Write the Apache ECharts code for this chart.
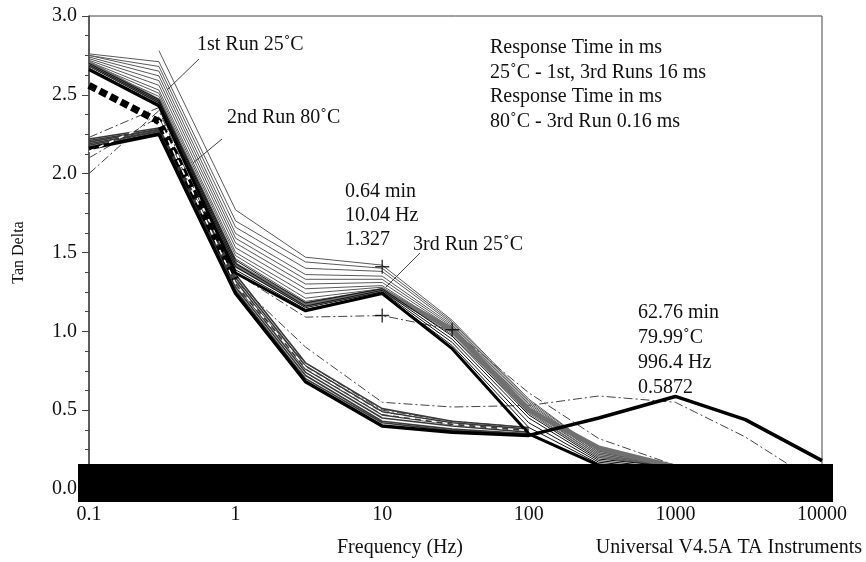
<!DOCTYPE html>
<html>
<head>
<meta charset="utf-8">
<script src="https://cdn.jsdelivr.net/npm/echarts@6/dist/echarts.min.js"></script>
<style>
  html, body { margin: 0; padding: 0; background: #fff; }
  #chart { width: 866px; height: 562px; }
</style>
</head>
<body>
<div id="chart"></div>
<script>
// frequency points of the sweep (Hz)
var freq = [0.1, 0.3, 1, 3, 10, 30, 100, 300, 1000, 3000, 10000];

// 1st run 25C - thin grey fan
var run1Lead = [null, 2.78, 1.77, 1.47, 1.42, 1.07, 0.57, 0.24, 0.15, 0.13, 0.10];
var run1Lines = [
  [2.76, 2.71, 1.70, 1.44, 1.40, 1.06, 0.56, 0.24, 0.15, 0.12, 0.10],
  [2.75, 2.68, 1.66, 1.40, 1.38, 1.05, 0.55, 0.23, 0.15, 0.12, 0.10],
  [2.75, 2.65, 1.62, 1.36, 1.35, 1.04, 0.54, 0.23, 0.15, 0.12, 0.10],
  [2.74, 2.62, 1.59, 1.33, 1.33, 1.03, 0.53, 0.22, 0.15, 0.12, 0.10],
  [2.73, 2.59, 1.56, 1.30, 1.31, 1.02, 0.52, 0.22, 0.14, 0.12, 0.10],
  [2.72, 2.56, 1.53, 1.27, 1.29, 1.01, 0.51, 0.21, 0.14, 0.12, 0.10],
  [2.71, 2.53, 1.50, 1.24, 1.28, 1.00, 0.50, 0.21, 0.14, 0.12, 0.10],
  [2.70, 2.51, 1.48, 1.21, 1.27, 0.99, 0.49, 0.20, 0.14, 0.12, 0.10],
  [2.69, 2.49, 1.46, 1.19, 1.26, 0.98, 0.48, 0.20, 0.14, 0.12, 0.10]
];

// 3rd run 25C - dense black band
var run3Lines = [
  [2.70, 2.47, 1.45, 1.18, 1.27, 0.97, 0.47, 0.19, 0.14, 0.12, 0.10],
  [2.69, 2.46, 1.43, 1.16, 1.26, 0.95, 0.45, 0.18, 0.13, 0.11, 0.09],
  [2.68, 2.45, 1.41, 1.15, 1.25, 0.93, 0.42, 0.17, 0.12, 0.10, 0.08],
  [2.67, 2.44, 1.39, 1.14, 1.24, 0.91, 0.39, 0.16, 0.11, 0.09, 0.07]
];
var run3Gray  = [2.70, 2.46, 1.42, 1.17, 1.26, 1.01, 0.50, 0.26, 0.14, 0.12, 0.10];
var run3Black = [2.66, 2.43, 1.37, 1.13, 1.24, 0.89, 0.35, 0.15, 0.05, 0.03, 0.02];

// 2nd / 3rd run 80C - lower band
var run2Lines = [
  [2.22, 2.29, 1.36, 0.80, 0.51, 0.43, 0.39],
  [2.21, 2.28, 1.34, 0.78, 0.49, 0.42, 0.38],
  [2.20, 2.28, 1.32, 0.76, 0.47, 0.41, 0.37],
  [2.19, 2.27, 1.30, 0.74, 0.45, 0.40, 0.36],
  [2.18, 2.27, 1.28, 0.72, 0.43, 0.38, 0.35],
  [2.17, 2.26, 1.26, 0.70, 0.42, 0.37, 0.35]
];
var run2Black = [2.16, 2.25, 1.24, 0.68, 0.40, 0.36, 0.34, 0.45, 0.587, 0.44, 0.18];

// dash-dot curves
var dashDotUpper = [2.23, 2.42, 1.37, 1.09, 1.10, 1.01, 0.61, 0.32, 0.15, 0.12, 0.10];
var dashDotMid   = [2.10, 2.36, 1.28, 0.80, 0.50, 0.43, 0.39];
var dashDotLower = [2.00, 2.40, 1.32, 0.90, 0.55, 0.52, 0.53, 0.59, 0.55, 0.33, 0.02];

// heavy black dashes and white dashes over the dense band
var heavyDash = [2.56, 2.33, 1.33];
var whiteDash = [2.14, 2.34, 1.30, 0.77, 0.48, 0.41, 0.37];

// cursor crosses
var crossFreq = [10, 10, 30];
var crossVal  = [1.41, 1.10, 1.01];

var serif = '"Liberation Serif", "Times New Roman", serif';

function pts(vals) {
  var out = [];
  for (var i = 0; i < vals.length; i++) {
    if (vals[i] != null) out.push([freq[i], vals[i]]);
  }
  return out;
}
function line(vals, color, width, type, z) {
  return {
    type: 'line', data: pts(vals), symbol: 'none', silent: true, z: z || 2,
    lineStyle: { color: color, width: width, type: type || 'solid' }
  };
}

var series = [];
series.push(line(dashDotUpper, '#444', 1, [9, 3, 2, 3], 2));
series.push(line(dashDotMid, '#444', 1, [9, 3, 2, 3], 2));
series.push(line(dashDotLower, '#444', 1, [9, 3, 2, 3], 2));
series.push(line(run1Lead, '#5a5a5a', 1, 'solid', 2));
run1Lines.forEach(function (v) { series.push(line(v, '#5a5a5a', 1, 'solid', 2)); });
series.push(line(run3Gray, '#707070', 5, 'solid', 3));
run3Lines.forEach(function (v) { series.push(line(v, '#111', 1, 'solid', 4)); });
run2Lines.forEach(function (v) { series.push(line(v, '#3a3a3a', 1.6, 'solid', 4)); });
series.push(line(run3Black, '#000', 3, 'solid', 5));
series.push(line(run2Black, '#000', 3.5, 'solid', 5));
series.push(line(heavyDash, '#000', 7, [8, 4], 6));
series.push(line(whiteDash, '#fff', 1.5, [5, 6], 7));
series.push({
  type: 'scatter', silent: true, z: 8,
  data: crossFreq.map(function (f, i) { return [f, crossVal[i]]; }),
  symbol: 'path://M4.5,0h1v10h-1zM0,4.5h10v1h-10z', symbolSize: 14,
  itemStyle: { color: '#000' }
});

function txt(x, y, s, size) {
  return {
    type: 'text', x: x, y: y, z: 50,
    style: { text: s, font: (size || 20) + 'px ' + serif, fill: '#111', textVerticalAlign: 'middle' }
  };
}
function seg(x1, y1, x2, y2) {
  return { type: 'line', z: 50, shape: { x1: x1, y1: y1, x2: x2, y2: y2 }, style: { stroke: '#444', lineWidth: 1 } };
}

var chart = echarts.init(document.getElementById('chart'));
chart.setOption({
  animation: false,
  backgroundColor: '#fff',
  grid: { left: 89, right: 44, top: 16, bottom: 73, show: true, borderColor: '#444', borderWidth: 1 },
  xAxis: {
    type: 'log', logBase: 10, min: 0.1, max: 10000,
    axisLine: { show: true, lineStyle: { color: '#444' } },
    axisTick: { show: false },
    splitLine: { show: false },
    axisLabel: {
      margin: 16, color: '#111', fontFamily: serif, fontSize: 20,
      formatter: function (v) { return String(+Number(v).toPrecision(6)); }
    }
  },
  yAxis: {
    type: 'value', min: 0, max: 3, interval: 0.5,
    name: 'Tan Delta', nameLocation: 'middle', nameGap: 62, nameRotate: 90,
    nameTextStyle: { fontFamily: serif, fontSize: 16, color: '#111' },
    axisLine: { show: true, lineStyle: { color: '#444', width: 1.5 } },
    axisTick: { show: true, length: 7, lineStyle: { color: '#444' } },
    minorTick: { show: true, splitNumber: 4, length: 4, lineStyle: { color: '#444' } },
    splitLine: { show: false },
    axisLabel: {
      margin: 12, color: '#111', fontFamily: serif, fontSize: 20,
      formatter: function (v) { return v.toFixed(1); }
    }
  },
  series: series,
  graphic: [
    { type: 'rect', z: 40, shape: { x: 78, y: 464, width: 755, height: 38 }, style: { fill: '#000' } },
    txt(197, 45, '1st Run 25˚C'),
    seg(199, 59, 167, 90),
    txt(227, 118, '2nd Run 80˚C'),
    seg(222, 139, 193, 163),
    txt(345, 192, '0.64 min'),
    txt(345, 216, '10.04 Hz'),
    txt(345, 240, '1.327'),
    txt(413, 245, '3rd Run 25˚C'),
    seg(420, 253, 386, 287),
    txt(638, 313, '62.76 min'),
    txt(638, 338, '79.99˚C'),
    txt(638, 363, '996.4 Hz'),
    txt(638, 388, '0.5872'),
    txt(490, 48, 'Response Time in ms'),
    txt(490, 73, '25˚C - 1st, 3rd Runs 16 ms'),
    txt(490, 97, 'Response Time in ms'),
    txt(490, 122, '80˚C - 3rd Run 0.16 ms'),
    { type: 'text', x: 400, y: 548, z: 50,
      style: { text: 'Frequency (Hz)', font: '20px ' + serif, fill: '#111', textAlign: 'center', textVerticalAlign: 'middle' } },
    { type: 'text', x: 862, y: 548, z: 50,
      style: { text: 'Universal V4.5A TA Instruments', font: '20px ' + serif, fill: '#111', textAlign: 'right', textVerticalAlign: 'middle' } }
  ]
});
</script>
</body>
</html>
